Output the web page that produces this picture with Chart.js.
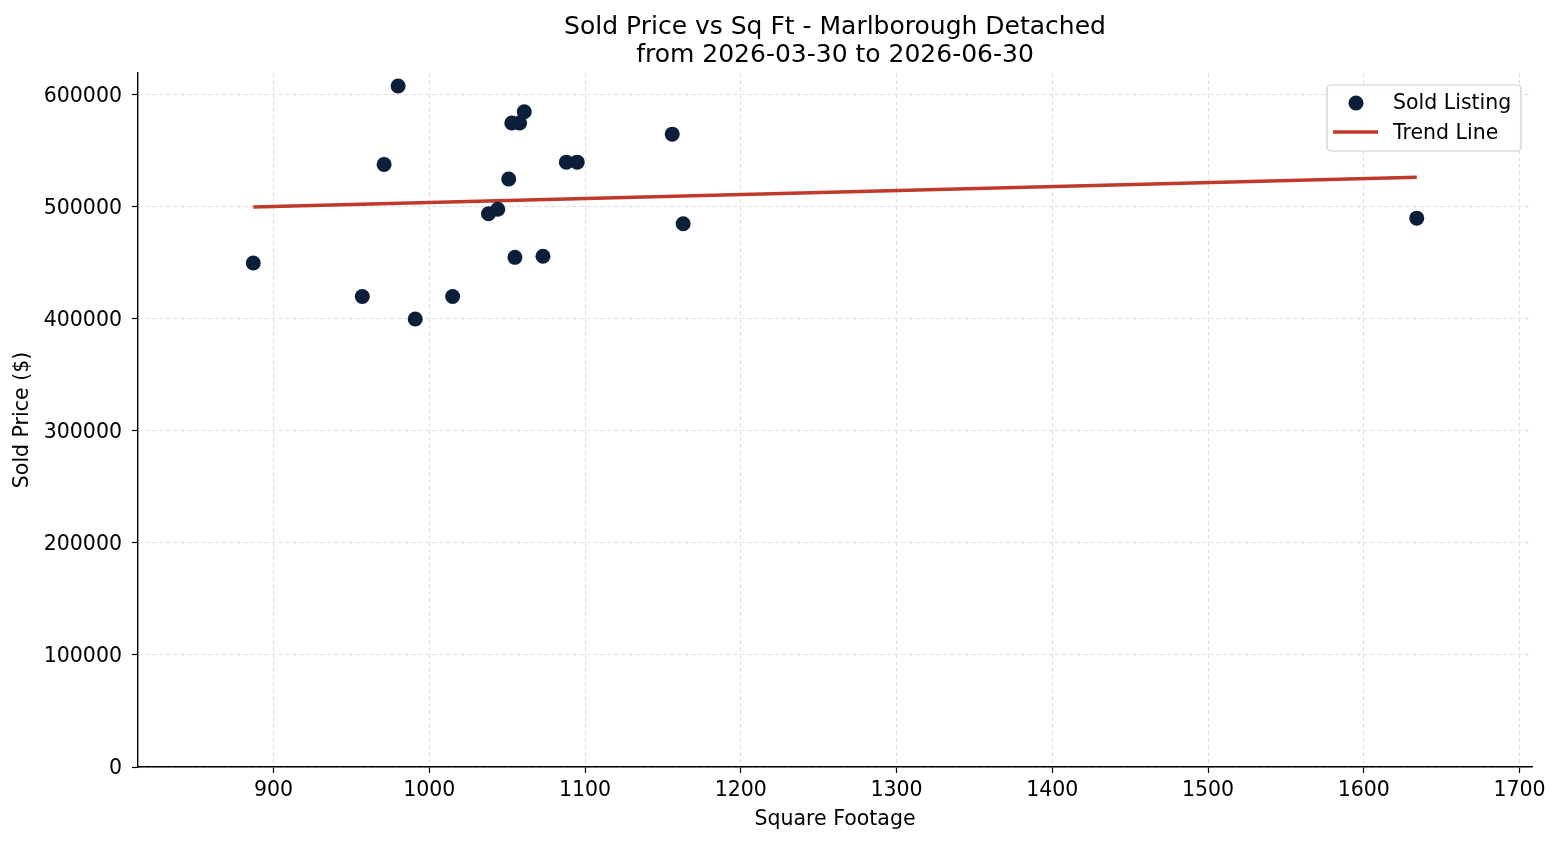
<!DOCTYPE html>
<html lang="en">
<head>
  <meta charset="UTF-8">
  <title>Sold Price vs Sq Ft - Marlborough Detached</title>
  <script src="https://cdn.jsdelivr.net/npm/chart.js"></script>
  <style>
    body {
      margin: 0;
      background: #fff;
    }
    #wrap {
      width: 1561px;
      height: 845px;
    }
  </style>
</head>
<body>
  <div id="wrap">
    <canvas id="myChart" width="1561" height="845"></canvas>
  </div>
  <script>
    // sold listings: square footage and sold price
    const sqFt = [887, 980, 971, 957, 991, 1015, 1038, 1044, 1051, 1053, 1058, 1061, 1055, 1073, 1088, 1095, 1156, 1163, 1634];
    const soldPrice = [450000, 608000, 538000, 420000, 400000, 420000, 494000, 498000, 525000, 575000, 575000, 585000, 455000, 456000, 540000, 540000, 565000, 485000, 490000];

    // trend line end points
    const trendX = [887, 1634];
    const trendY = [500000, 526500];

    const xTicks = [900, 1000, 1100, 1200, 1300, 1400, 1500, 1600, 1700];
    const yTicks = [0, 100000, 200000, 300000, 400000, 500000, 600000];

    const titleLines = ['Sold Price vs Sq Ft - Marlborough Detached', 'from 2026-03-30 to 2026-06-30'];

    const FONT = "'DejaVu Sans', sans-serif";
    const DOT = '#0b1f3a';
    const RED = '#c0392b';

    const points = sqFt.map((x, i) => ({ x: x, y: soldPrice[i] }));
    const trend = trendX.map((x, i) => ({ x: x, y: trendY[i] }));

    // title centred over the plot area, like matplotlib does
    const areaTitle = {
      id: 'areaTitle',
      afterDraw(chart) {
        const ctx = chart.ctx;
        const area = chart.chartArea;
        const cx = (area.left + area.right) / 2;
        ctx.save();
        ctx.font = '25px ' + FONT;
        ctx.fillStyle = '#000';
        ctx.textAlign = 'center';
        ctx.textBaseline = 'middle';
        titleLines.forEach((t, i) => ctx.fillText(t, cx, 27 + i * 28));
        ctx.restore();
      }
    };

    // legend box drawn inside the plot, upper right
    const boxLegend = {
      id: 'boxLegend',
      afterDraw(chart) {
        const ctx = chart.ctx;
        const area = chart.chartArea;
        const w = 194, h = 66;
        const x0 = area.right - 11 - w;
        const y0 = area.top + 12;
        ctx.save();
        ctx.beginPath();
        ctx.roundRect(x0, y0, w, h, 4);
        ctx.fillStyle = 'rgba(255,255,255,0.85)';
        ctx.fill();
        ctx.strokeStyle = '#cccccc';
        ctx.lineWidth = 1.2;
        ctx.stroke();

        const ds = chart.data.datasets;
        ctx.font = '20.5px ' + FONT;
        ctx.textBaseline = 'middle';

        // row 1: marker
        ctx.beginPath();
        ctx.arc(x0 + 29, y0 + 18, 7.5, 0, Math.PI * 2);
        ctx.fillStyle = DOT;
        ctx.fill();
        ctx.fillStyle = '#000';
        ctx.fillText(ds[0].label, x0 + 66, y0 + 19);

        // row 2: line
        ctx.beginPath();
        ctx.moveTo(x0 + 6, y0 + 47);
        ctx.lineTo(x0 + 51, y0 + 47);
        ctx.strokeStyle = RED;
        ctx.lineWidth = 3.5;
        ctx.stroke();
        ctx.fillText(ds[1].label, x0 + 66, y0 + 49);
        ctx.restore();
      }
    };

    const ctx = document.getElementById('myChart').getContext('2d');
    new Chart(ctx, {
      type: 'scatter',
      data: {
        datasets: [{
          label: 'Sold Listing',
          data: points,
          backgroundColor: DOT,
          borderColor: DOT,
          pointRadius: 7.5,
          pointHoverRadius: 7.5,
          borderWidth: 0,
          order: 1
        }, {
          label: 'Trend Line',
          type: 'line',
          data: trend,
          borderColor: RED,
          backgroundColor: RED,
          borderWidth: 3.5,
          pointRadius: 0,
          showLine: true,
          fill: false,
          order: 2
        }]
      },
      options: {
        responsive: false,
        animation: false,
        layout: {
          padding: { left: 0, right: 29, top: 73, bottom: 0 }
        },
        plugins: {
          legend: { display: false },
          tooltip: { enabled: false },
          title: { display: false }
        },
        scales: {
          x: {
            type: 'linear',
            min: 813,
            max: 1708,
            afterBuildTicks: (scale) => {
              scale.ticks = xTicks.map(v => ({ value: v }));
            },
            afterFit: (scale) => { scale.height = 78; },
            ticks: {
              color: '#000',
              font: { family: FONT, size: 20.5 },
              padding: 5,
              maxRotation: 0,
              callback: (v) => String(v)
            },
            grid: {
              color: '#d4d4d4',
              lineWidth: 0.8,
              tickColor: '#000',
              tickLength: 6,
              tickWidth: 1.2,
              tickBorderDash: []
            },
            border: { display: true, color: '#000', width: 1.4, dash: [4, 3] },
            title: {
              display: true,
              text: 'Square Footage',
              color: '#000',
              font: { family: FONT, size: 20.5 },
              padding: { top: 4, bottom: 13.5 }
            }
          },
          y: {
            type: 'linear',
            min: 0,
            max: 619600,
            afterBuildTicks: (scale) => {
              scale.ticks = yTicks.map(v => ({ value: v }));
            },
            afterFit: (scale) => { scale.width = 138; },
            ticks: {
              color: '#000',
              font: { family: FONT, size: 20.5 },
              padding: 10,
              labelOffset: 2,
              callback: (v) => String(v)
            },
            grid: {
              color: '#d4d4d4',
              lineWidth: 0.8,
              tickColor: '#000',
              tickLength: 6,
              tickWidth: 1.2,
              tickBorderDash: []
            },
            border: { display: true, color: '#000', width: 1.4, dash: [4, 3] },
            title: {
              display: true,
              text: 'Sold Price ($)',
              color: '#000',
              font: { family: FONT, size: 20.5 },
              padding: { top: 10.5, bottom: 4 }
            }
          }
        }
      },
      plugins: [areaTitle, boxLegend]
    });
  </script>
</body>
</html>
